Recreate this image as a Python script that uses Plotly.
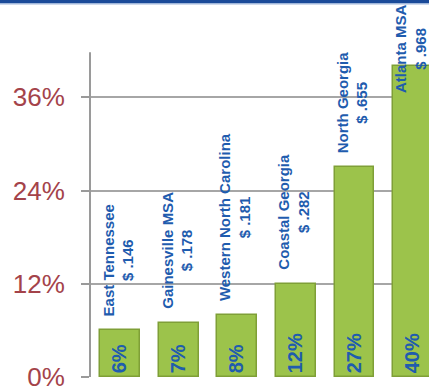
import plotly.graph_objects as go

regions = ["East Tennessee", "Gainesville MSA", "Western North Carolina",
           "Coastal Georgia", "North Georgia", "Atlanta MSA"]
dollars = ["$ .146", "$ .178", "$ .181", "$ .282", "$ .655", "$ .968"]
shares = [6, 7, 8, 12, 27, 40]
pct_labels = ["6%", "7%", "8%", "12%", "27%", "40%"]
tick_vals = [0, 12, 24, 36]
tick_text = ["0%", "12%", "24%", "36%"]

xs = list(range(len(regions)))
blue = "#1f5cae"
red = "#a4434a"

fig = go.Figure()
fig.add_trace(go.Bar(
    x=xs, y=shares, width=0.68,
    marker=dict(color="#9cc34b", line=dict(color="#7f9f37", width=1.5)),
    text=pct_labels, textposition="inside", insidetextanchor="start",
    textangle=-90, constraintext="none",
    textfont=dict(family="Liberation Sans, Arial", size=20, color=blue, weight="bold"),
    hoverinfo="skip",
))

label_cap = 34.7
for x, name, d, v in zip(xs, regions, dollars, shares):
    fig.add_annotation(
        x=x, y=min(v, label_cap), xref="x", yref="y",
        text=f"<b>{name}</b><br><b>{d}</b>", showarrow=False,
        textangle=-90, xanchor="center", yanchor="bottom", yshift=12, xshift=-2,
        align="center",
        font=dict(family="Liberation Sans, Arial", size=15, color=blue),
    )

# y-axis line
fig.add_shape(type="line", xref="paper", yref="y", x0=0, x1=0, y0=0, y1=41.8,
              line=dict(color="#9a9a9a", width=2))
# top banner
fig.add_shape(type="rect", xref="paper", yref="paper", x0=-1, x1=2, y0=1.003, y1=1.05,
              fillcolor="#1a4a99", line=dict(width=0), layer="above")
fig.add_shape(type="line", xref="paper", yref="paper", x0=-1, x1=2, y0=1.001, y1=1.001,
              line=dict(color="#9fb6da", width=1.5), layer="above")

fig.update_layout(
    width=429, height=392,
    margin=dict(l=90, r=0, t=4, b=15),
    paper_bgcolor="white", plot_bgcolor="white",
    showlegend=False, bargap=0,
    xaxis=dict(range=[-0.512, 5.27], showticklabels=False, showgrid=False,
               zeroline=False, showline=False, ticks=""),
    yaxis=dict(range=[-0.001, 48], tickvals=tick_vals, ticktext=tick_text,
               showgrid=True, gridcolor="#a6a6a6", gridwidth=1.5,
               zeroline=False, showline=False,
               ticks="outside", ticklen=8, tickcolor="#9a9a9a", tickwidth=1.5,
               ticklabelstandoff=11, ticklabeloverflow="allow",
               tickfont=dict(family="Liberation Sans, Arial", size=26, color=red)),
)

fig.write_html("out.html", config={"displayModeBar": False},
               post_script="document.body.style.margin='0';document.body.style.overflow='hidden';")
